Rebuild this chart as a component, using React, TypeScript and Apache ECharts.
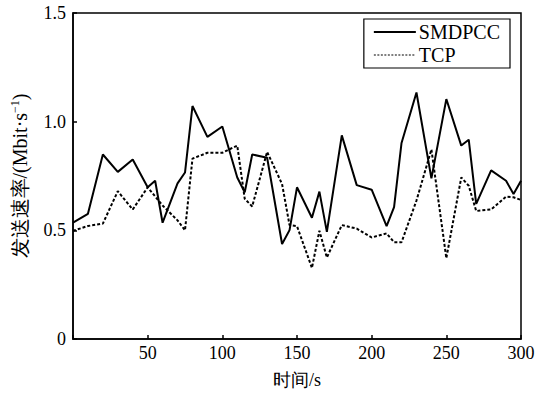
import React, { useEffect, useRef } from "react";
import * as echarts from "echarts";

const timeSMDPCC = [0, 10, 20, 30, 40, 50, 55, 60, 70, 75, 80, 90, 100, 110, 115, 120, 130, 140, 145, 150, 160, 165, 170, 180, 190, 200, 210, 215, 220, 230, 240, 250, 260, 265, 270, 280, 290, 295, 300];
const valSMDPCC = [0.535, 0.576, 0.849, 0.769, 0.826, 0.698, 0.728, 0.535, 0.716, 0.766, 1.072, 0.93, 0.978, 0.743, 0.675, 0.849, 0.834, 0.437, 0.501, 0.698, 0.558, 0.678, 0.493, 0.937, 0.708, 0.687, 0.519, 0.607, 0.902, 1.134, 0.739, 1.104, 0.89, 0.917, 0.622, 0.776, 0.728, 0.667, 0.728];

const timeTCP = [0, 10, 20, 30, 40, 50, 60, 70, 75, 80, 90, 100, 110, 115, 120, 130, 140, 145, 150, 160, 165, 170, 180, 190, 200, 210, 215, 220, 230, 240, 250, 260, 265, 270, 280, 290, 295, 300];
const valTCP = [0.498, 0.52, 0.531, 0.68, 0.596, 0.698, 0.614, 0.546, 0.5, 0.83, 0.857, 0.857, 0.89, 0.645, 0.61, 0.861, 0.713, 0.524, 0.519, 0.327, 0.498, 0.375, 0.524, 0.508, 0.467, 0.486, 0.445, 0.445, 0.637, 0.872, 0.372, 0.743, 0.705, 0.589, 0.596, 0.655, 0.652, 0.64];

const seriesNames = ["SMDPCC", "TCP"];
const xTicks = [0, 50, 100, 150, 200, 250, 300];
const yTicks = [0, 0.5, 1.0, 1.5];

const FONT = "Liberation Serif";

export default function App() {
  const ref = useRef<HTMLDivElement>(null);
  useEffect(() => {
    if (!ref.current) return;
    const chart = echarts.init(ref.current, undefined, { renderer: "svg" });
    const pairs = (t: number[], v: number[]) => t.map((x, i) => [x, v[i]]);
    const lbl = { fontFamily: FONT, fontSize: 18, color: "#000" };
    const nm = { fontFamily: FONT, fontSize: 20, color: "#000" };
    chart.setOption({
      animation: false,
      backgroundColor: "#fff",
      textStyle: { fontFamily: FONT, color: "#000" },
      grid: {
        left: 73,
        right: 23,
        top: 13,
        bottom: 51,
        show: true,
        borderColor: "#000",
        borderWidth: 1.5,
        backgroundColor: "transparent",
      },
      legend: {
        orient: "vertical",
        right: 34,
        top: 19,
        data: [
          { name: seriesNames[0], itemStyle: { opacity: 0 }, lineStyle: { width: 2 } },
          { name: seriesNames[1], itemStyle: { opacity: 0 }, lineStyle: { width: 1.2, type: [2, 1.5] } },
        ],
        borderColor: "#000",
        borderWidth: 1.2,
        padding: [3, 10, 3, 9],
        itemGap: 3,
        itemWidth: 42,
        itemHeight: 20,
        textStyle: { fontFamily: FONT, fontSize: 20, color: "#000", padding: [0, 0, 0, -2] },
      },
      xAxis: {
        type: "value",
        min: xTicks[0],
        max: xTicks[xTicks.length - 1],
        interval: 50,
        name: "{a|时间/s}",
        nameLocation: "middle",
        nameGap: 32,
        nameTextStyle: { ...lbl, rich: { a: { ...lbl } } },
        axisLine: { lineStyle: { color: "#000", width: 1.5 } },
        axisTick: { inside: true, length: 4, lineStyle: { color: "#000", width: 1.5 } },
        axisLabel: {
          ...lbl,
          margin: 5,
          formatter: (v: number) => (v === 0 ? "" : "{a|" + String(v) + "}"),
          rich: { a: { ...lbl } },
        },
        splitLine: { show: false },
      },
      yAxis: {
        type: "value",
        min: yTicks[0],
        max: yTicks[yTicks.length - 1],
        interval: 0.5,
        name: "{a|发送速率/(Mbit·s}{s|−1}{a|)}",
        nameLocation: "middle",
        nameGap: 43,
        nameTextStyle: {
          ...nm,
          rich: {
            a: { ...nm },
            s: { fontFamily: FONT, fontSize: 12, color: "#000", verticalAlign: "top", padding: [0, 0, 9, 0] },
          },
        },
        axisLine: { lineStyle: { color: "#000", width: 1.5 } },
        axisTick: { inside: true, length: 4, lineStyle: { color: "#000", width: 1.5 } },
        axisLabel: {
          ...lbl,
          margin: 7,
          formatter: (v: number) => "{a|" + (v === 0 ? "0" : v.toFixed(1)) + "}",
          rich: { a: { ...lbl } },
        },
        splitLine: { show: false },
      },
      series: [
        {
          name: seriesNames[0],
          type: "line",
          symbol: "none",
          data: pairs(timeSMDPCC, valSMDPCC),
          lineStyle: { color: "#000", width: 2 },
          itemStyle: { color: "#000" },
        },
        {
          name: seriesNames[1],
          type: "line",
          symbol: "none",
          data: pairs(timeTCP, valTCP),
          lineStyle: { color: "#000", width: 2, type: [3, 2] },
          itemStyle: { color: "#000" },
        },
      ],
    });
    return () => chart.dispose();
  }, []);
  return <div ref={ref} style={{ width: 544, height: 394, position: "absolute", left: 0, top: 0 }} />;
}
